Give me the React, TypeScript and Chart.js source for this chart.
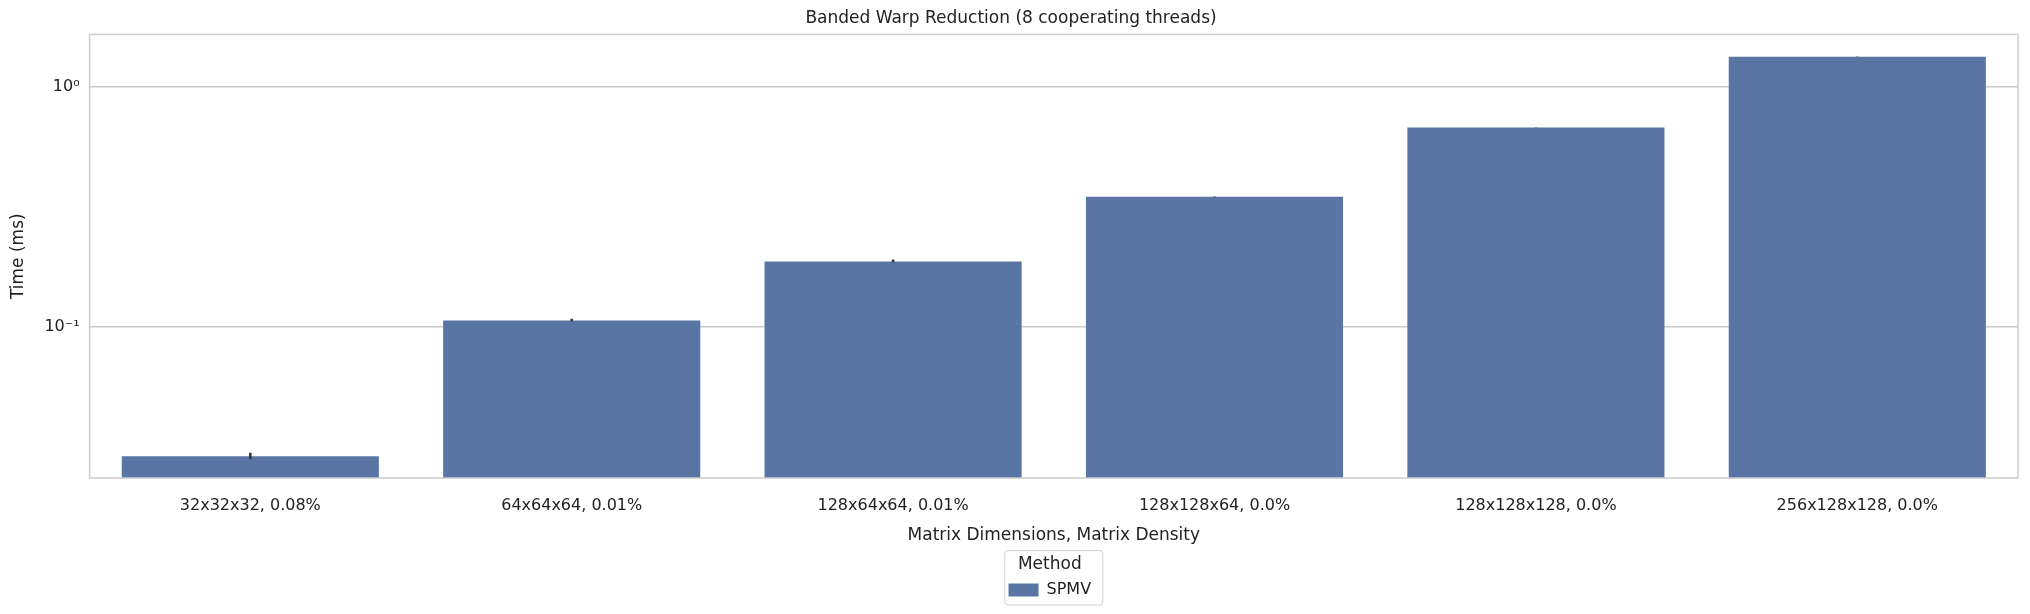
import React, { useEffect, useRef } from "react";
import { Chart, registerables } from "chart.js";
Chart.register(...registerables);

const categories = ["32x32x32, 0.08%", "64x64x64, 0.01%", "128x64x64, 0.01%", "128x128x64, 0.0%", "128x128x128, 0.0%", "256x128x128, 0.0%"];
const spmv = [0.0287, 0.106, 0.187, 0.348, 0.678, 1.34];
const errLow = [0.0279, 0.1052, 0.1855, 0.347, 0.677, 1.338];
const errHigh = [0.0297, 0.1078, 0.1905, 0.349, 0.679, 1.342];
const yTicks = [0.1, 1];
const yTickLabels = ["10⁻¹", "10⁰"];

const FONT = "'DejaVu Sans', sans-serif";

const framePlugin = {
  id: "frame",
  afterLayout(chart: any) {
    const l = chart.legend;
    const a = chart.chartArea;
    if (!l) return;
    const d = (a.left + a.right) / 2 - chart.width / 2;
    l.left += d;
    l.right += d;
  },
  afterDatasetsDraw(chart: any) {
    const { ctx, chartArea: a, scales } = chart;
    ctx.save();
    ctx.strokeStyle = "#333";
    ctx.lineWidth = 2.5;
    const x = scales.x, y = scales.y;
    spmv.forEach((_, i) => {
      const px = x.getPixelForValue(i);
      ctx.beginPath();
      ctx.moveTo(px, y.getPixelForValue(errLow[i]));
      ctx.lineTo(px, y.getPixelForValue(errHigh[i]));
      ctx.stroke();
    });
    ctx.strokeStyle = "#cccccc";
    ctx.lineWidth = 1.5;
    ctx.strokeRect(a.left, a.top, a.right - a.left, a.bottom - a.top);
    ctx.restore();
  },
  afterDraw(chart: any) {
    const l = chart.legend;
    if (!l) return;
    const ctx = chart.ctx;
    ctx.save();
    ctx.strokeStyle = "#d0d0d0";
    ctx.lineWidth = 1;
    const w = 98, cx = (chart.chartArea.left + chart.chartArea.right) / 2;
    ctx.beginPath();
    (ctx as any).roundRect(cx - w / 2, l.top + 1, w, l.height - 4, 3);
    ctx.stroke();
    ctx.restore();
  },
};

export default function App() {
  const ref = useRef<HTMLCanvasElement>(null);
  useEffect(() => {
    document.body.style.margin = "0";
    const chart = new Chart(ref.current!, {
      type: "bar",
      data: {
        labels: categories,
        datasets: [{ label: "SPMV", data: spmv, backgroundColor: "#5875a4", borderColor: "#5875a4", borderWidth: 0, barPercentage: 0.8, categoryPercentage: 1 }],
      },
      options: {
        animation: false,
        responsive: false,
        layout: { padding: { left: 4, right: 12, top: 0, bottom: 6 } },
        plugins: {
          tooltip: { enabled: false },
          title: { display: true, text: "Banded Warp Reduction (8 cooperating threads)", color: "#222", font: { family: FONT, size: 17, weight: "normal" }, padding: { top: 8, bottom: 6 } },
          legend: {
            position: "bottom",
            labels: { color: "#222", font: { family: FONT, size: 16 }, boxWidth: 30, boxHeight: 13, padding: 6 },
            title: { display: true, text: "Method", color: "#222", font: { family: FONT, size: 17 }, padding: { top: 6, bottom: 0 } },
          },
        },
        scales: {
          x: {
            grid: { display: false },
            border: { display: false },
            ticks: { color: "#222", font: { family: FONT, size: 16 }, padding: 10 },
            title: { display: true, text: "Matrix Dimensions, Matrix Density", color: "#222", font: { family: FONT, size: 17 }, padding: { top: 0, bottom: 4 } },
          },
          y: {
            type: "logarithmic",
            min: 0.0233,
            max: 1.66,
            border: { display: false },
            grid: { color: "#cccccc", lineWidth: 1.5, drawTicks: false },
            afterBuildTicks: (s: any) => { s.ticks = yTicks.map((v) => ({ value: v })); },
            ticks: {
              color: "#222", font: { family: FONT, size: 16 }, padding: 10,
              callback: (v: any) => { const i = yTicks.indexOf(Number(v)); return i >= 0 ? yTickLabels[i] : ""; },
            },
            title: { display: true, text: "Time (ms)", color: "#222", font: { family: FONT, size: 17 }, padding: { bottom: 6 } },
          },
        },
      },
      plugins: [framePlugin],
    } as any);
    return () => chart.destroy();
  }, []);
  return <canvas ref={ref} width={2030} height={614} style={{ display: "block" }} />;
}
